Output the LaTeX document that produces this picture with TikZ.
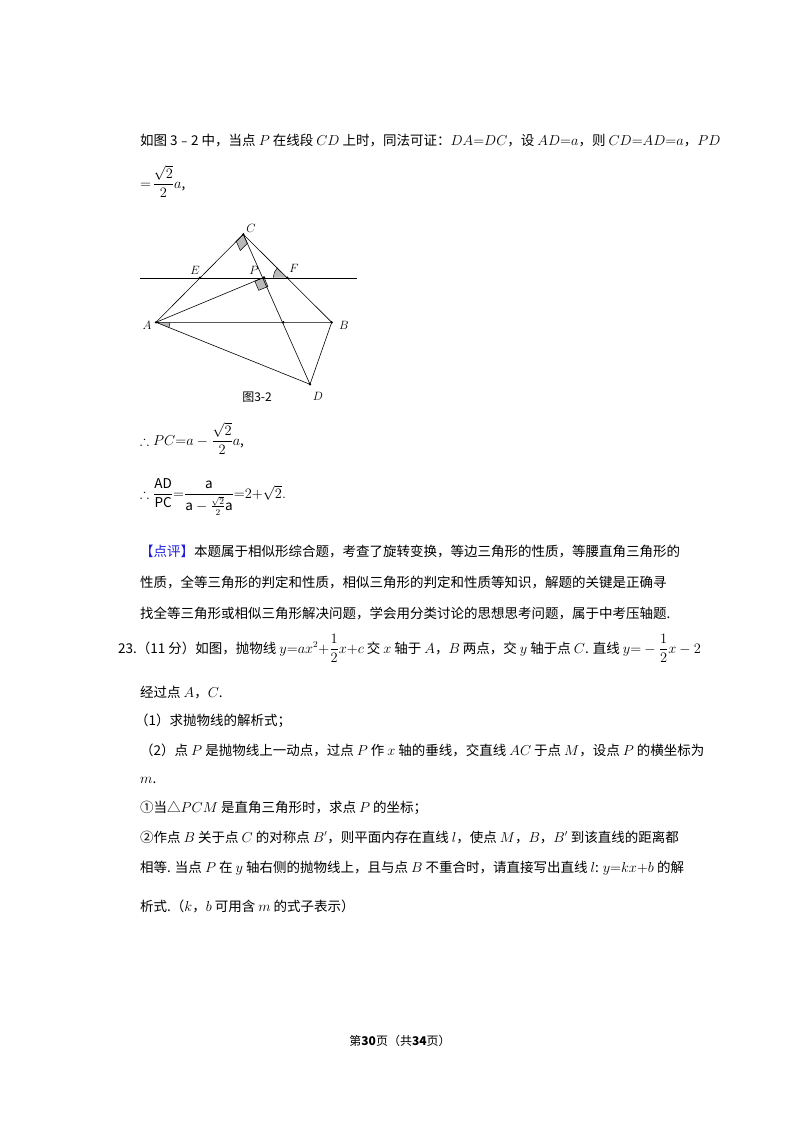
\documentclass[tikz,border=0pt]{standalone}
\usepackage{amsmath,amssymb}
\usepackage{fontspec}
\setmainfont{Noto Sans CJK SC}
\usetikzlibrary{calc,angles}
\definecolor{dpblue}{RGB}{30,30,220}
\begin{document}
\begin{tikzpicture}[x=1pt,y=-1pt,
  txt/.style={anchor=base west,inner sep=0pt,font=\fontsize{13.5}{14}\selectfont},
  lbl/.style={inner sep=0pt,font=\fontsize{13}{13}\selectfont},
  seg/.style={line width=0.6pt},
  amark/.style={fill=gray!55,draw=black,line width=0.5pt},
  vdot/.style={circle,fill=black,inner sep=0.9pt}]
\useasboundingbox (0,0) rectangle (800,1132);
\fill[white] (0,0) rectangle (800,1132);
% text above figure
\node[txt] (t1) at (140,145) {如图 3﹣2 中，当点 $P$ 在线段 $CD$ 上时，同法可证：$DA{=}DC$，设 $AD{=}a$，则 $CD{=}AD{=}a$，$PD$};
\node[txt] (t2) at (140,188) {$=\!\dfrac{\sqrt2}{2}a$,};
% figure
\coordinate (C) at (243.3,234.3);
\coordinate (E) at (200,277.7);
\coordinate (P) at (264,277.3);
\coordinate (F) at (287.3,277.7);
\coordinate (A) at (156,322.3);
\coordinate (B) at (331.7,322.3);
\coordinate (D) at (310,384.3);
\coordinate (G) at (283.3,322.3);
\coordinate (L1) at (140,278);
\coordinate (L2) at (357,278);
% marks
\coordinate (ca) at ($(C)!10pt!(A)$);
\coordinate (cd) at ($(C)!10pt!(D)$);
\filldraw[amark] (C) -- (ca) -- ($(ca)+(cd)-(C)$) -- (cd) -- cycle;
\coordinate (pa) at ($(P)!10pt!(A)$);
\coordinate (pd) at ($(P)!10pt!(D)$);
\filldraw[amark] (P) -- (pa) -- ($(pa)+(pd)-(P)$) -- (pd) -- cycle;
\pic[amark,angle radius=14pt] {angle=D--A--B};
\pic[amark,angle radius=14pt] {angle=C--F--E};
\draw[seg] (L1) -- (L2);
\draw[seg] (A) -- (C) -- (B) -- (D) -- (A) -- (B);
\draw[seg] (C) -- (D);
\draw[seg] (A) -- (P);
\foreach \p in {C,E,P,F,A,B,D,G} \node[vdot] at (\p) {};
\node[lbl] (lC) at (251,228) {$C$};
\node[lbl] (lE) at (195,270) {$E$};
\node[lbl] (lP) at (254,270) {$P$};
\node[lbl] (lF) at (294,268) {$F$};
\node[lbl] (lA) at (147,325) {$A$};
\node[lbl] (lB) at (344,325) {$B$};
\node[lbl] (lD) at (318,396) {$D$};
\node[inner sep=0pt,font=\fontsize{12}{12}\selectfont] (cap) at (257,397) {图3-2};
% text below figure
\node[txt] (t3) at (140,445) {$\therefore PC{=}a-\dfrac{\sqrt2}{2}a$,};
\node[txt] (t4) at (140,498) {$\therefore \dfrac{\mathrm{AD}}{\mathrm{PC}}{=}\dfrac{\mathrm{a}}{\mathrm{a}-\tfrac{\sqrt2}{2}\mathrm{a}}{=}2{+}\sqrt2.$};
\node[txt] (t5) at (140,556) {\textcolor{dpblue}{【点评】}本题属于相似形综合题，考查了旋转变换，等边三角形的性质，等腰直角三角形的};
\node[txt] (t6) at (140,587) {性质，全等三角形的判定和性质，相似三角形的判定和性质等知识，解题的关键是正确寻};
\node[txt] (t7) at (140,618) {找全等三角形或相似三角形解决问题，学会用分类讨论的思想思考问题，属于中考压轴题.};
\node[txt] (t8) at (118,653) {23.（11 分）如图，抛物线 $y{=}ax^2{+}\dfrac12x{+}c$ 交 $x$ 轴于 $A$，$B$ 两点，交 $y$ 轴于点 $C$. 直线 $y{=}-\dfrac12x-2$};
\node[txt] (t9) at (140,697) {经过点 $A$，$C$.};
\node[txt] (t10) at (135,725) {（1）求抛物线的解析式；};
\node[txt] (t11) at (140,755) {（2）点 $P$ 是抛物线上一动点，过点 $P$ 作 $x$ 轴的垂线，交直线 $AC$ 于点 $M$，设点 $P$ 的横坐标为};
\node[txt] (t12) at (140,783) {$m$.};
\node[txt] (t13) at (140,812) {①当△$PCM$ 是直角三角形时，求点 $P$ 的坐标；};
\node[txt] (t14) at (140,842) {②作点 $B$ 关于点 $C$ 的对称点 $B'$，则平面内存在直线 $l$，使点 $M$，$B$，$B'$ 到该直线的距离都};
\node[txt] (t15) at (140,872) {相等. 当点 $P$ 在 $y$ 轴右侧的抛物线上，且与点 $B$ 不重合时，请直接写出直线 $l$: $y{=}kx{+}b$ 的解};
\node[txt] (t16) at (140,911) {析式.（$k$，$b$ 可用含 $m$ 的式子表示）};
\node[inner sep=0pt,font=\fontsize{12}{12}\selectfont] (foot) at (400,1041) {第\textbf{30}页（共\textbf{34}页）};
\end{tikzpicture}
\end{document}
